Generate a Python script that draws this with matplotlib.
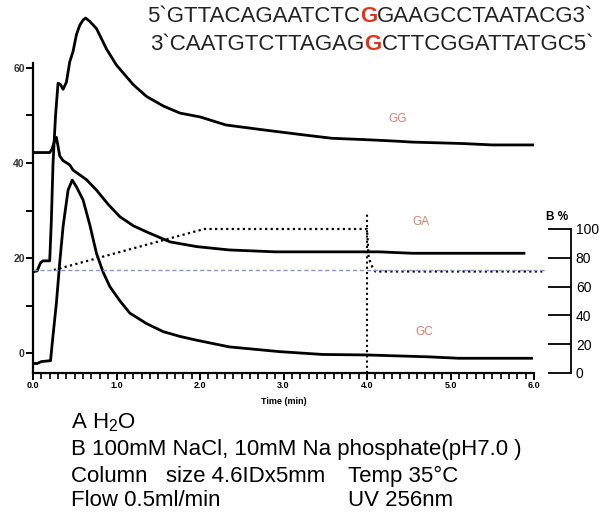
import matplotlib
matplotlib.use("Agg")
import matplotlib.pyplot as plt

plt.rcParams['font.family'] = ['Liberation Sans', 'DejaVu Sans']
plt.rcParams['mathtext.fontset'] = 'custom'
plt.rcParams['mathtext.rm'] = 'Liberation Sans'

# time (min) and absorbance for the three duplexes
gg_t = [0, 0.05, 0.09, 0.12, 0.20, 0.22, 0.24, 0.27, 0.30, 0.33, 0.36, 0.40, 0.44,
        0.48, 0.52, 0.56, 0.60, 0.63, 0.68, 0.76, 0.88, 1.0, 1.2, 1.36, 1.56, 1.76,
        2.0, 2.31, 2.79, 3.2, 3.58, 4.0, 4.35, 4.54, 5.14, 5.5, 6.0]
gg_v = [17.1, 17.3, 19.0, 19.4, 19.4, 28, 40, 50, 56.8, 56.5, 55.5, 57, 61.3,
        63.5, 67, 69, 70.1, 70.5, 69.8, 68.3, 64, 60.6, 56.5, 54, 52, 50.5,
        49.7, 48, 46.9, 46, 45.2, 44.9, 44.6, 44.4, 44.1, 43.8, 43.8]

ga_t = [0, 0.20, 0.23, 0.255, 0.28, 0.30, 0.32, 0.36, 0.44, 0.48, 0.56, 0.64, 0.76,
        0.90, 1.04, 1.2, 1.36, 1.64, 1.96, 2.35, 2.9, 3.5, 4.0, 4.15, 4.54, 5.2, 5.88]
ga_v = [42.2, 42.2, 43, 44.5, 45.4, 43.5, 41.5, 40.5, 39.6, 38.5, 37.5, 36.5, 34.3,
        31.3, 28.7, 26.8, 25.5, 23.4, 22.4, 21.7, 21.3, 21.3, 21.3, 21.3, 21.0, 21.0, 21.0]

gc_t = [0, 0.05, 0.10, 0.21, 0.23, 0.28, 0.32, 0.36, 0.42, 0.47, 0.52, 0.60, 0.68,
        0.76, 0.84, 0.92, 1.04, 1.16, 1.36, 1.56, 1.76, 1.96, 2.35, 2.95, 3.47, 3.99,
        4.74, 5.1, 5.97]
gc_v = [-2.2, -2.2, -1.8, -1.6, 2, 10.5, 19, 26.6, 34.3, 36.4, 35, 32.2, 27,
        21, 17, 14, 11, 8.4, 6.2, 4.5, 3.5, 2.7, 1.3, 0.3, -0.3, -0.4,
        -0.8, -1.1, -1.1]

# gradient program, B %
grad_t = [0.25, 2.05, 4.0, 4.02, 4.06, 4.1, 6.1]
grad_b = [71.5, 100, 100, 80, 74, 70.5, 70.5]
base_b = 71.5
inject_t = 4.0

labels = ['GG', 'GA', 'GC']
label_pos = [(4.37, 49.3), (4.65, 27.6), (4.69, 4.4)]

fig = plt.figure(figsize=(5.99, 5.12), dpi=100)
ax = fig.add_axes([33 / 599, (512 - 373) / 512, (534 - 33) / 599, (373 - 10) / 512])
ax.set_xlim(0, 6)
ax.set_ylim(-4.2, 72.2)

for t, v in [(gg_t, gg_v), (ga_t, ga_v), (gc_t, gc_v)]:
    ax.plot(t, v, color='black', lw=2.0, solid_joinstyle='round')

for lab, (x, y) in zip(labels, label_pos):
    ax.text(x, y, lab, color='#d4826e', fontsize=8.5, ha='center', va='center')

ax.spines['top'].set_visible(False)
ax.spines['right'].set_visible(False)
ax.spines['left'].set_bounds(-4.2, 61)
ax.spines['left'].set_linewidth(1.6)
ax.spines['bottom'].set_linewidth(1.6)
ax.set_yticks([0, 20, 40, 60])
ax.set_yticks([10, 30, 50], minor=True)
ax.set_xticks([0, 1, 2, 3, 4, 5, 6])
ax.set_xticklabels(['0.0', '1.0', '2.0', '3.0', '4.0', '5.0', '6.0'])
ax.set_xticks([i / 10 for i in range(61)], minor=True)
ax.tick_params(axis='y', which='major', length=5, width=1.4, labelsize=7.5, pad=1,
               labelcolor='#333333')
ax.tick_params(axis='y', which='minor', length=5, width=1.4)
ax.tick_params(axis='x', which='major', length=5, width=1.4, labelsize=6.5, pad=1)
ax.tick_params(axis='x', which='minor', length=4, width=1.2)
for lbl in ax.get_xticklabels() + ax.get_yticklabels():
    lbl.set_fontweight('bold')
ax.set_xlabel('Time (min)', fontsize=6.5, fontweight='bold', labelpad=5)

ax2 = ax.twinx()
ax2.set_ylim(0, 100 * 363 / 144)
ax2.plot(grad_t, grad_b, color='black', lw=1.6, ls=(0, (1, 1.5)), clip_on=False)
ax2.plot([0, 6.15], [base_b, base_b], color='#8898c8', lw=1.0, ls=(0, (3, 2)),
         clip_on=False)
ax2.plot([inject_t, inject_t], [0, 111], color='black', lw=1.5, ls=(0, (1, 1.5)))
for s in ['left', 'top', 'bottom']:
    ax2.spines[s].set_visible(False)
ax2.spines['right'].set_position(('axes', (571 - 33) / 501))
ax2.spines['right'].set_bounds(0, 100)
ax2.spines['right'].set_linewidth(1.3)
ax2.set_yticks([0, 20, 40, 60, 80, 100])
ax2.tick_params(axis='y', direction='in', length=16.5, width=1.3, labelsize=10, pad=3.5)
ax2.text(557 / 599, (512 - 217) / 512, 'B %', transform=fig.transFigure,
         fontsize=8.5, fontweight='bold', ha='center', va='center')

# sequences with the mismatched base in red
seq_fs = 16
seqs = [('5`GTTACAGAATCTC', 'G', 'GAAGCCTAATACG3`', 147, 16),
        ('3`CAATGTCTTAGAG', 'G', 'CTTCGGATTATGC5`', 150, 44)]
for pre, mid, post, x, y in seqs:
    t1 = fig.text(x / 599, (512 - y) / 512, pre, fontsize=seq_fs, ha='left',
                  va='center', color='#222222')
    t2 = ax.annotate(mid, xy=(1, 0), xycoords=t1, ha='left', va='bottom',
                     fontsize=seq_fs, color='#e0341e', fontweight='bold')
    ax.annotate(post, xy=(1, 0), xycoords=t2, ha='left', va='bottom',
                fontsize=seq_fs, color='#222222')

fs = 16
fig.text(71 / 599, (512 - 423) / 512, 'A H$_\\mathregular{2}$O', fontsize=fs, va='center')
fig.text(71 / 599, (512 - 450) / 512, 'B 100mM NaCl, 10mM Na phosphate(pH7.0 )',
         fontsize=fs, va='center')
fig.text(71 / 599, (512 - 476) / 512, 'Column   size 4.6IDx5mm', fontsize=fs, va='center')
fig.text(348 / 599, (512 - 476) / 512, 'Temp 35\u00b0C', fontsize=fs, va='center')
fig.text(71 / 599, (512 - 501) / 512, 'Flow 0.5ml/min', fontsize=fs, va='center')
fig.text(348 / 599, (512 - 501) / 512, 'UV 256nm', fontsize=fs, va='center')

fig.savefig('out.png', dpi=100, facecolor='white')
